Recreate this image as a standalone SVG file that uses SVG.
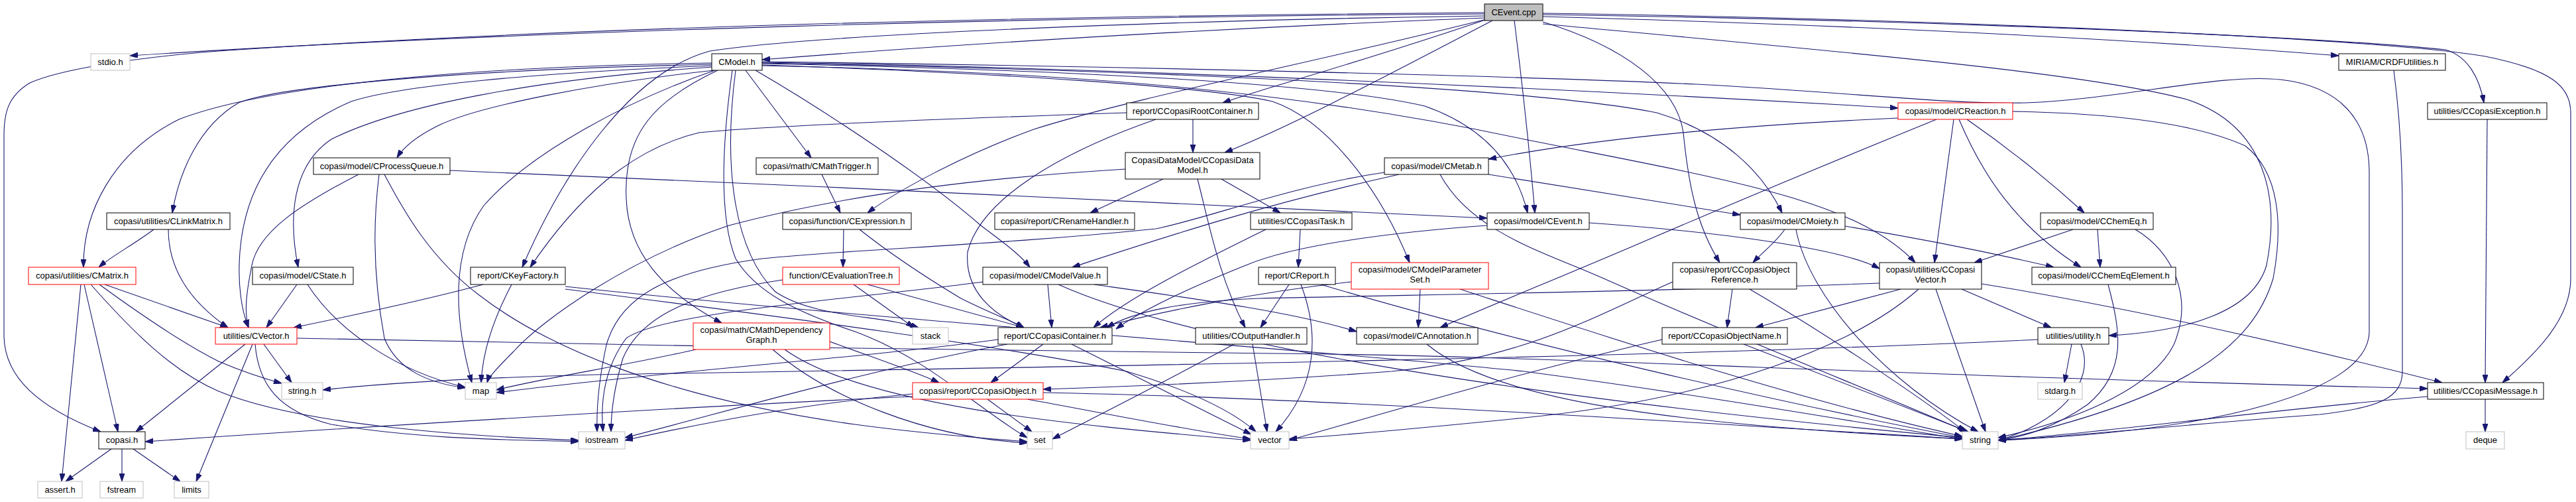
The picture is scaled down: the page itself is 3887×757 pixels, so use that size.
<svg xmlns="http://www.w3.org/2000/svg" width="3887" height="757" viewBox="0 0 3887 757">
<style>
#edges path{fill:none;stroke:#191970;stroke-width:1.1;marker-end:url(#a)}
.n rect{fill:#fff;stroke:#000;stroke-width:1}
.x rect{stroke:#bfbfbf}
.r rect{stroke:#ff0000}
.n text{font-family:"Liberation Sans",Arial,sans-serif;font-size:13px;text-anchor:middle;fill:#000}
</style>
<defs>
<marker id="a" viewBox="0 0 12 8" refX="12" refY="4" markerWidth="12" markerHeight="8" markerUnits="userSpaceOnUse" orient="auto"><path d="M0,0 L12,4 L0,8 z" fill="#191970" stroke="#191970"/></marker>
</defs>
<rect width="3887" height="757" fill="#fff"/>
<g id="edges">
<path d="M2240,21 C1600,25 800,45 196,84"/>
<path d="M2240,19 C1600,24 900,38 330,77 C200,87 90,105 45,125 C12,145 6,170 6,205 L6,505 C6,570 60,615 152,651"/>
<path d="M2240,27 C1900,40 1500,62 1150,90"/>
<path d="M2285,31 C2300,150 2310,250 2316,321"/>
<path d="M2241,30 C2050,95 1900,135 1845,155"/>
<path d="M2252,31 C2100,110 1950,190 1848,230"/>
<path d="M2243,29 C2000,90 1700,150 1560,195 C1450,235 1350,290 1309,321"/>
<path d="M2240,24 C1800,30 1250,50 1071,77 C950,110 850,260 788,403"/>
<path d="M2328,25 C2800,38 3200,58 3529,84"/>
<path d="M2328,22 C2900,30 3500,55 3690,75 C3725,85 3742,120 3748,155"/>
<path d="M2328,20 C3000,30 3600,60 3750,85 C3850,105 3879,130 3879,170 L3879,420 C3879,480 3830,530 3776,577"/>
<path d="M2328,33 C2450,70 2530,130 2540,200 C2548,280 2560,340 2595,396"/>
<path d="M2328,36 C2800,80 3150,110 3300,150 C3420,190 3440,300 3420,400 C3400,470 3300,500 3182,506"/>
<path d="M1074,95 C700,100 400,130 270,180 C170,230 125,320 126,403"/>
<path d="M1074,97 C700,105 420,130 360,155 C300,190 270,260 260,321"/>
<path d="M1075,99 C800,110 600,130 530,153 C420,200 370,280 362,380 C358,430 365,470 375,494"/>
<path d="M1076,101 C800,120 600,160 500,210 C440,250 435,330 450,403"/>
<path d="M1078,106 C900,125 720,160 660,190 C630,205 610,220 599,238"/>
<path d="M1079,106 C950,150 800,230 730,310 C680,380 685,480 712,577"/>
<path d="M1083,106 C990,150 940,200 945,300 C948,380 1000,440 1089,487"/>
<path d="M1125,106 L1224,238"/>
<path d="M1140,106 C1250,170 1400,270 1480,340 C1520,370 1540,385 1554,403"/>
<path d="M1150,94 C1600,100 2300,130 2864,163"/>
<path d="M1150,95 C1700,105 2300,130 2500,170 C2600,200 2660,260 2689,321"/>
<path d="M1150,96 C1600,105 2000,125 2150,160 C2250,195 2290,260 2305,321"/>
<path d="M1150,98 C1500,110 1820,130 1920,153 C2000,180 2080,280 2127,396"/>
<path d="M1150,99 C1600,108 1950,135 2300,210 C2600,270 2800,300 2890,396"/>
<path d="M1150,93 C1700,100 2300,115 2560,127 C2800,140 2950,158 3057,155 C3200,150 3350,110 3441,120 C3530,130 3575,180 3575,260 L3575,500 C3575,590 3350,650 3015,664"/>
<path d="M1105,106 C1085,250 1090,340 1110,390 C1140,440 1200,470 1290,500 C1400,540 1480,620 1550,660"/>
<path d="M1110,106 C1090,260 1110,380 1170,440 C1230,480 1330,475 1386,494"/>
<path d="M679,257 C1200,280 1900,310 2244,329"/>
<path d="M541,263 C450,310 390,350 380,400 C372,440 368,470 375,494"/>
<path d="M572,263 C565,320 560,400 580,510 C600,560 650,578 702,585"/>
<path d="M580,263 C610,320 650,390 723,445 C820,520 1000,600 1290,640 C1400,655 1500,662 1550,666"/>
<path d="M232,346 C200,370 170,385 149,403"/>
<path d="M254,346 C254,400 280,450 344,494"/>
<path d="M122,429 L93,726"/>
<path d="M127,429 L178,651"/>
<path d="M150,429 C220,480 280,520 330,545 C370,562 395,570 425,578"/>
<path d="M158,429 L344,494"/>
<path d="M137,429 C200,500 260,560 330,590 C450,640 700,658 873,664"/>
<path d="M448,429 L402,494"/>
<path d="M464,429 C510,500 600,560 702,584"/>
<path d="M370,519 L205,651"/>
<path d="M381,519 L296,726"/>
<path d="M398,519 L440,577"/>
<path d="M385,519 C390,580 420,620 500,640 C650,665 800,663 873,666"/>
<path d="M448,510 C900,520 1500,530 1920,533 S2800,565 3663,586"/>
<path d="M168,677 L99,726"/>
<path d="M184,677 L184,726"/>
<path d="M201,677 L272,726"/>
<path d="M729,429 C650,450 560,470 443,494"/>
<path d="M772,429 C745,480 728,530 726,577"/>
<path d="M853,432 C1300,480 1900,520 2300,560 C2600,600 2850,645 2961,662"/>
<path d="M853,436 C1200,480 1500,520 1700,560 C1800,590 1860,620 1895,651"/>
<path d="M1240,263 L1268,321"/>
<path d="M1273,346 L1272,403"/>
<path d="M1297,346 C1340,380 1400,420 1450,450 C1500,475 1530,485 1545,494"/>
<path d="M1288,429 L1379,494"/>
<path d="M1309,429 L1545,494"/>
<path d="M1181,422 C1060,440 970,470 940,540 C925,590 922,625 922,651"/>
<path d="M1800,180 L1800,230"/>
<path d="M1744,180 C1600,230 1480,300 1460,380 C1455,440 1500,475 1545,494"/>
<path d="M1700,170 C1400,180 1150,190 1055,200 C950,225 870,300 800,403"/>
<path d="M1755,270 L1645,321"/>
<path d="M1843,270 L1932,321"/>
<path d="M1807,270 C1825,340 1840,420 1879,494"/>
<path d="M1698,255 C1450,270 1250,300 1100,340 C950,390 820,480 775,530 C745,560 737,570 735,577"/>
<path d="M2246,263 L2626,324"/>
<path d="M2111,263 C1900,310 1750,360 1618,403"/>
<path d="M2173,263 C2220,350 2330,380 2420,420 C2600,500 2850,600 2968,651"/>
<path d="M2089,260 C1950,280 1820,330 1744,345 C1500,370 1300,375 1150,390 C1000,410 935,450 915,520 C902,580 900,620 901,651"/>
<path d="M1962,346 L1959,403"/>
<path d="M1910,346 C1800,400 1700,450 1650,494"/>
<path d="M2398,336 C2600,350 2780,375 2836,405"/>
<path d="M2244,340 C2100,350 1950,370 1880,400 C1780,440 1720,470 1684,496"/>
<path d="M2864,178 C2600,190 2400,210 2246,240"/>
<path d="M2968,180 C3040,230 3100,280 3145,321"/>
<path d="M2956,180 C2990,260 3040,340 3140,403"/>
<path d="M2948,180 L2919,396"/>
<path d="M2922,180 C2750,250 2560,330 2467,370 C2350,420 2250,460 2173,494"/>
<path d="M3037,168 C3150,170 3300,180 3388,220 C3440,260 3445,340 3430,420 C3400,520 3300,600 3015,664"/>
<path d="M2693,346 C2680,365 2660,380 2645,396"/>
<path d="M2784,341 C2900,360 3000,380 3099,403"/>
<path d="M2710,346 C2730,450 2850,580 2985,651"/>
<path d="M3165,346 L3169,403"/>
<path d="M3128,346 L2979,396"/>
<path d="M3222,346 C3280,380 3310,450 3280,520 C3250,580 3150,630 3015,660"/>
<path d="M3181,429 C3200,500 3210,560 3150,610 C3100,645 3050,660 3015,664"/>
<path d="M2614,436 L2606,494"/>
<path d="M2524,425 C2400,480 2300,540 2100,560 C1900,575 1700,583 1574,587"/>
<path d="M2640,436 C2750,500 2900,600 2965,651"/>
<path d="M2960,436 L3095,494"/>
<path d="M2990,428 C3250,470 3500,530 3685,577"/>
<path d="M2921,436 L2996,651"/>
<path d="M2868,436 L2649,494"/>
<path d="M2836,427 C2500,440 2100,445 1900,450 C1780,455 1710,470 1670,494"/>
<path d="M2895,436 C2800,520 2600,600 2300,630 C2100,650 2000,658 1945,662"/>
<path d="M1581,429 L1587,494"/>
<path d="M1651,429 C1800,450 1950,470 2047,500"/>
<path d="M1597,429 C1800,520 2300,600 2961,660"/>
<path d="M1483,425 C1300,450 1000,470 945,510 C915,550 905,600 910,651"/>
<path d="M1945,429 L1902,494"/>
<path d="M1963,429 C1990,500 1990,580 1925,651"/>
<path d="M1993,429 C2300,520 2700,610 2961,660"/>
<path d="M2143,436 L2140,494"/>
<path d="M2203,436 C2400,500 2700,600 2961,658"/>
<path d="M2039,425 C1900,440 1750,470 1660,494"/>
<path d="M1050,527 C950,550 820,570 749,588"/>
<path d="M1166,527 C1250,600 1400,660 1550,668"/>
<path d="M1184,527 C1300,610 1600,640 1887,664"/>
<path d="M1252,515 C1320,540 1380,560 1417,577"/>
<path d="M1574,519 L1495,577"/>
<path d="M1617,519 L1888,655"/>
<path d="M1506,512 C1300,540 1000,560 749,592"/>
<path d="M1520,519 C1300,560 1100,620 943,660"/>
<path d="M1862,519 C1750,580 1650,630 1588,662"/>
<path d="M1890,519 L1912,651"/>
<path d="M2153,519 C2250,600 2500,640 2961,662"/>
<path d="M2631,519 L2970,651"/>
<path d="M2508,512 C2300,560 2100,620 1945,664"/>
<path d="M3126,519 L3115,577"/>
<path d="M3140,519 C3165,580 3100,640 3015,664"/>
<path d="M3075,512 C2500,540 1500,555 900,565 C700,570 560,580 487,588"/>
<path d="M1377,598 C1100,610 600,640 219,666"/>
<path d="M1490,602 L1557,651"/>
<path d="M1574,592 C2000,600 2600,640 2961,662"/>
<path d="M1550,602 C1650,620 1800,650 1887,662"/>
<path d="M1377,594 C1200,610 1050,640 943,664"/>
<path d="M3750,602 L3750,651"/>
<path d="M3663,598 C3400,620 3200,650 3015,664"/>
<path d="M3753,180 L3750,577"/>
<path d="M3612,106 C3622,180 3625,260 3625,320 L3625,560 C3625,600 3590,615 3500,625 C3300,640 3100,660 3015,664"/>
</g>
<g id="n_cpp" class="n"><rect x="2240" y="6" width="88" height="25" style="fill:#bfbfbf"/><text x="2284" y="23">CEvent.cpp</text></g>
<g id="n_stdio" class="n x"><rect x="137" y="81" width="59" height="25"/><text x="166.5" y="98">stdio.h</text></g>
<g id="n_cmodel" class="n"><rect x="1074" y="81" width="76" height="25"/><text x="1112" y="98">CModel.h</text></g>
<g id="n_crdf" class="n"><rect x="3529" y="81" width="161" height="25"/><text x="3609.5" y="98">MIRIAM/CRDFUtilities.h</text></g>
<g id="n_rootc" class="n"><rect x="1700" y="155" width="199" height="25"/><text x="1799.5" y="172">report/CCopasiRootContainer.h</text></g>
<g id="n_creaction" class="n r"><rect x="2864" y="155" width="173" height="25"/><text x="2950.5" y="172">copasi/model/CReaction.h</text></g>
<g id="n_cexc" class="n"><rect x="3663" y="155" width="180" height="25"/><text x="3753" y="172">utilities/CCopasiException.h</text></g>
<g id="n_cpq" class="n"><rect x="473" y="238" width="206" height="25"/><text x="576" y="255">copasi/model/CProcessQueue.h</text></g>
<g id="n_cmt" class="n"><rect x="1141" y="238" width="184" height="25"/><text x="1233" y="255">copasi/math/CMathTrigger.h</text></g>
<g id="n_cdm" class="n"><rect x="1698" y="230" width="203" height="40"/><text x="1799.5" y="246">CopasiDataModel/CCopasiData</text><text x="1799.5" y="261">Model.h</text></g>
<g id="n_cmetab" class="n"><rect x="2089" y="238" width="157" height="25"/><text x="2167.5" y="255">copasi/model/CMetab.h</text></g>
<g id="n_clm" class="n"><rect x="161" y="321" width="186" height="25"/><text x="254" y="338">copasi/utilities/CLinkMatrix.h</text></g>
<g id="n_cexpr" class="n"><rect x="1181" y="321" width="194" height="25"/><text x="1278" y="338">copasi/function/CExpression.h</text></g>
<g id="n_crh" class="n"><rect x="1501" y="321" width="211" height="25"/><text x="1606.5" y="338">copasi/report/CRenameHandler.h</text></g>
<g id="n_ctask" class="n"><rect x="1887" y="321" width="153" height="25"/><text x="1963.5" y="338">utilities/CCopasiTask.h</text></g>
<g id="n_ceventh" class="n"><rect x="2244" y="321" width="154" height="25"/><text x="2321" y="338">copasi/model/CEvent.h</text></g>
<g id="n_cmoiety" class="n"><rect x="2626" y="321" width="158" height="25"/><text x="2705" y="338">copasi/model/CMoiety.h</text></g>
<g id="n_cchemeq" class="n"><rect x="3079" y="321" width="170" height="25"/><text x="3164" y="338">copasi/model/CChemEq.h</text></g>
<g id="n_cmatrix" class="n r"><rect x="43" y="403" width="162" height="26"/><text x="124" y="420">copasi/utilities/CMatrix.h</text></g>
<g id="n_cstate" class="n"><rect x="381" y="403" width="152" height="26"/><text x="457" y="420">copasi/model/CState.h</text></g>
<g id="n_ckf" class="n"><rect x="710" y="403" width="143" height="26"/><text x="781.5" y="420">report/CKeyFactory.h</text></g>
<g id="n_cet" class="n r"><rect x="1181" y="403" width="176" height="26"/><text x="1269" y="420">function/CEvaluationTree.h</text></g>
<g id="n_cmv" class="n"><rect x="1483" y="403" width="188" height="26"/><text x="1577" y="420">copasi/model/CModelValue.h</text></g>
<g id="n_creport" class="n"><rect x="1899" y="403" width="116" height="26"/><text x="1957" y="420">report/CReport.h</text></g>
<g id="n_cmps" class="n r"><rect x="2039" y="396" width="207" height="40"/><text x="2142.5" y="411">copasi/model/CModelParameter</text><text x="2142.5" y="426">Set.h</text></g>
<g id="n_cor" class="n"><rect x="2524" y="396" width="187" height="40"/><text x="2617.5" y="411">copasi/report/CCopasiObject</text><text x="2617.5" y="426">Reference.h</text></g>
<g id="n_ccv" class="n"><rect x="2836" y="396" width="154" height="40"/><text x="2913" y="411">copasi/utilities/CCopasi</text><text x="2913" y="426">Vector.h</text></g>
<g id="n_ccee" class="n"><rect x="3066" y="403" width="217" height="26"/><text x="3174.5" y="420">copasi/model/CChemEqElement.h</text></g>
<g id="n_cvector" class="n r"><rect x="325" y="494" width="123" height="25"/><text x="386.5" y="511">utilities/CVector.h</text></g>
<g id="n_cmdg" class="n r"><rect x="1046" y="487" width="206" height="40"/><text x="1149" y="502">copasi/math/CMathDependency</text><text x="1149" y="517">Graph.h</text></g>
<g id="n_stack" class="n x"><rect x="1377" y="494" width="54" height="25"/><text x="1404" y="511">stack</text></g>
<g id="n_ccc" class="n"><rect x="1506" y="494" width="172" height="25"/><text x="1592" y="511">report/CCopasiContainer.h</text></g>
<g id="n_coh" class="n"><rect x="1804" y="494" width="168" height="25"/><text x="1888" y="511">utilities/COutputHandler.h</text></g>
<g id="n_cann" class="n"><rect x="2047" y="494" width="183" height="25"/><text x="2138.5" y="511">copasi/model/CAnnotation.h</text></g>
<g id="n_con" class="n"><rect x="2508" y="494" width="189" height="25"/><text x="2602.5" y="511">report/CCopasiObjectName.h</text></g>
<g id="n_utility" class="n"><rect x="3075" y="494" width="107" height="25"/><text x="3128.5" y="511">utilities/utility.h</text></g>
<g id="n_stringh" class="n x"><rect x="425" y="577" width="62" height="25"/><text x="456" y="594">string.h</text></g>
<g id="n_map" class="n x"><rect x="702" y="577" width="47" height="25"/><text x="725.5" y="594">map</text></g>
<g id="n_cco" class="n r"><rect x="1377" y="577" width="197" height="25"/><text x="1475.5" y="594">copasi/report/CCopasiObject.h</text></g>
<g id="n_stdarg" class="n x"><rect x="3075" y="577" width="67" height="25"/><text x="3108.5" y="594">stdarg.h</text></g>
<g id="n_ccm" class="n"><rect x="3663" y="577" width="175" height="25"/><text x="3750.5" y="594">utilities/CCopasiMessage.h</text></g>
<g id="n_copasih" class="n"><rect x="149" y="651" width="70" height="26"/><text x="184" y="668">copasi.h</text></g>
<g id="n_iostream" class="n x"><rect x="873" y="651" width="70" height="26"/><text x="908" y="668">iostream</text></g>
<g id="n_set" class="n x"><rect x="1550" y="651" width="38" height="26"/><text x="1569" y="668">set</text></g>
<g id="n_vector" class="n x"><rect x="1887" y="651" width="58" height="26"/><text x="1916" y="668">vector</text></g>
<g id="n_string" class="n x"><rect x="2961" y="651" width="54" height="26"/><text x="2988" y="668">string</text></g>
<g id="n_deque" class="n x"><rect x="3721" y="651" width="58" height="26"/><text x="3750" y="668">deque</text></g>
<g id="n_assert" class="n x"><rect x="57" y="726" width="67" height="25"/><text x="90.5" y="743">assert.h</text></g>
<g id="n_fstream" class="n x"><rect x="151" y="726" width="65" height="25"/><text x="183.5" y="743">fstream</text></g>
<g id="n_limits" class="n x"><rect x="263" y="726" width="52" height="25"/><text x="289" y="743">limits</text></g>
</svg>
